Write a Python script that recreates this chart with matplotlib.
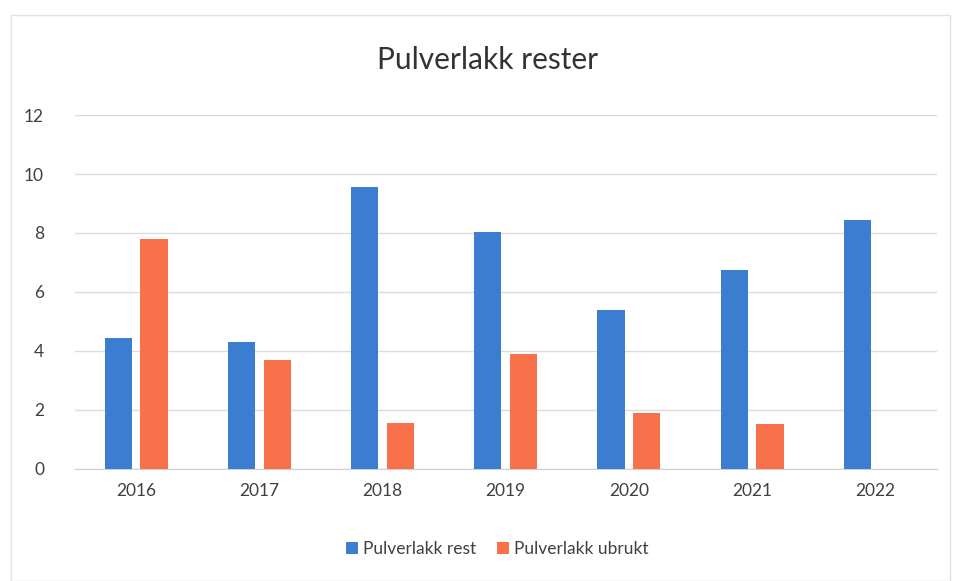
# -*- coding: utf-8 -*-
"""
    Pulverlakk rester: gruppert stolpediagram per år
"""
import numpy as np
import matplotlib.pyplot as plt
from matplotlib.patches import Rectangle

years = ['2016', '2017', '2018', '2019', '2020', '2021', '2022']
rest = [4.45, 4.3, 9.55, 8.05, 5.4, 6.75, 8.45]
ubrukt = [7.8, 3.7, 1.56, 3.9, 1.9, 1.52, 0]
series_names = ['Pulverlakk rest', 'Pulverlakk ubrukt']
y_ticks = [0, 2, 4, 6, 8, 10, 12]

plt.rcParams['font.family'] = ['Lato', 'DejaVu Sans']

fig = plt.figure(figsize=(9.56, 5.81), dpi=100)
ax = fig.add_axes([0.078, 0.193, 0.902, 0.609])

x = np.arange(len(years))
w = 0.22
off = 0.145
ax.bar(x - off, rest, width=w, color='#3b7dd0', label=series_names[0], zorder=3)
ax.bar(x + off, ubrukt, width=w, color='#f8714b', label=series_names[1], zorder=3)

ax.set_xlim(-0.5, len(years) - 0.5)
ax.set_ylim(0, 12)
ax.set_yticks(y_ticks)
ax.set_yticklabels([str(t) for t in y_ticks], fontsize=12.5, color='#404040')
ax.set_xticks(x)
ax.set_xticklabels(years, fontsize=12.5, color='#404040')
ax.tick_params(axis='both', length=0)
ax.tick_params(axis='y', pad=22)
ax.tick_params(axis='x', pad=10)
ax.grid(axis='y', color='#dcdcdc', linewidth=1, zorder=0)
for s in ['top', 'right', 'left']:
    ax.spines[s].set_visible(False)
ax.spines['bottom'].set_color('#d0d0d0')

fig.text(0.51, 0.897, 'Pulverlakk rester', ha='center', va='center',
         fontsize=21.5, color='#333333')

fig.legend(loc='center', bbox_to_anchor=(0.52, 0.055), ncol=2, frameon=False,
           fontsize=12.5, handlelength=0.7, handleheight=0.7, columnspacing=1.2,
           handletextpad=0.3, labelcolor='#404040')

# tynn ramme rundt diagrammet
fig.patches.append(Rectangle((0.012, 0.0), 0.982, 0.975, transform=fig.transFigure,
                             fill=False, edgecolor='#e2e2e2', linewidth=1))

plt.savefig('out.png', dpi=100)
